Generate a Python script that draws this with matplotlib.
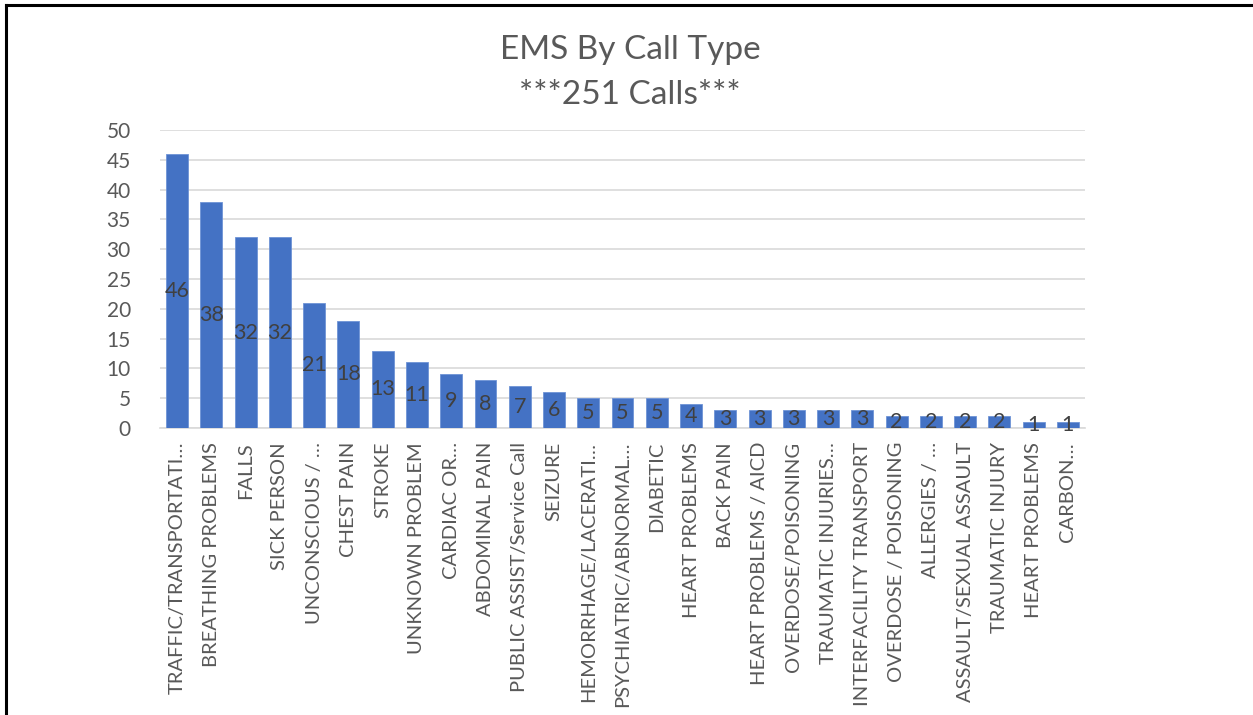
import matplotlib
matplotlib.use("Agg")
import matplotlib.pyplot as plt
from matplotlib.lines import Line2D

plt.rcParams['font.family'] = ['Lato', 'DejaVu Sans']

call_types = [
    "TRAFFIC/TRANSPORTATI…", "BREATHING PROBLEMS", "FALLS", "SICK PERSON",
    "UNCONSCIOUS / …", "CHEST PAIN", "STROKE", "UNKNOWN PROBLEM",
    "CARDIAC OR…", "ABDOMINAL PAIN", "PUBLIC ASSIST/Service Call", "SEIZURE",
    "HEMORRHAGE/LACERATI…", "PSYCHIATRIC/ABNORMAL…", "DIABETIC", "HEART PROBLEMS",
    "BACK PAIN", "HEART PROBLEMS / AICD", "OVERDOSE/POISONING", "TRAUMATIC INJURIES…",
    "INTERFACILITY TRANSPORT", "OVERDOSE / POISONING", "ALLERGIES / …",
    "ASSAULT/SEXUAL ASSAULT", "TRAUMATIC INJURY", "HEART PROBLEMS", "CARBON…",
]
calls = [46, 38, 32, 32, 21, 18, 13, 11, 9, 8, 7, 6, 5, 5, 5, 4,
         3, 3, 3, 3, 3, 2, 2, 2, 2, 1, 1]
y_ticks = [0, 5, 10, 15, 20, 25, 30, 35, 40, 45, 50]

fig = plt.figure(figsize=(12.53, 7.15), dpi=100)
ax = fig.add_axes([160 / 1253, 1 - 428 / 715, (1085 - 160) / 1253, (428 - 130) / 715])

x = list(range(len(calls)))
bars = ax.bar(x, calls, width=0.64, color='#4472C4', edgecolor='#6E93D6',
              linewidth=0.6, zorder=3)

for b, v in zip(bars, calls):
    ax.text(b.get_x() + b.get_width() / 2, v / 2, str(v), ha='center', va='center',
            fontsize=15.5, color='#404040', zorder=4)

ax.set_xlim(-0.5, len(calls) - 0.5)
ax.set_ylim(0, 50)
ax.set_yticks(y_ticks)
ax.set_yticklabels([str(t) for t in y_ticks], fontsize=15, color='#595959')
ax.set_xticks(x)
ax.set_xticklabels(call_types, rotation=90, fontsize=14.5, color='#595959')
ax.tick_params(axis='both', length=0)
ax.tick_params(axis='x', pad=10)
ax.tick_params(axis='y', pad=21)
ax.yaxis.grid(True, color='#D9D9D9', linewidth=1.2, zorder=0)
for s in ['top', 'right', 'left']:
    ax.spines[s].set_visible(False)
ax.spines['bottom'].set_color('#D9D9D9')
ax.spines['bottom'].set_linewidth(1.2)

fig.text(630 / 1253, 1 - 50 / 715, "EMS By Call Type", ha='center', va='center',
         fontsize=24, color='#595959')
fig.text(630 / 1253, 1 - 95 / 715, "***251 Calls***", ha='center', va='center',
         fontsize=24, color='#595959')

# outer frame (left and top edges visible in the crop)
fig.add_artist(Line2D([6 / 1253, 6 / 1253], [0, 1 - 5 / 715], color='black', linewidth=2.2))
fig.add_artist(Line2D([6 / 1253, 1], [1 - 5 / 715, 1 - 5 / 715], color='black', linewidth=2.2))

fig.savefig("out.png", dpi=100)
